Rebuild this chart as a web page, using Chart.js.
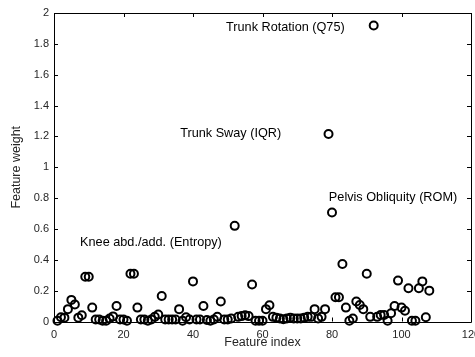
<!DOCTYPE html>
<html>
<head>
<meta charset="utf-8">
<script src="https://cdn.jsdelivr.net/npm/chart.js@4"></script>
<style>
html,body{margin:0;padding:0;background:#fff;}
#wrap{width:475px;height:357px;}
</style>
</head>
<body>
<div id="wrap"><canvas id="c" width="475" height="357"></canvas></div>
<script>
const featureIndex = [];
for (let i = 1; i <= 108; i++) featureIndex.push(i);
const featureWeight = [
  0.005, 0.027, 0.025, 0.08, 0.14, 0.11, 0.025, 0.04, 0.29, 0.29,
  0.09, 0.013, 0.013, 0.005, 0.005, 0.02, 0.033, 0.10, 0.013, 0.013,
  0.005, 0.31, 0.31, 0.09, 0.013, 0.013, 0.005, 0.013, 0.03, 0.045,
  0.165, 0.013, 0.013, 0.013, 0.013, 0.08, 0.005, 0.027, 0.013, 0.26,
  0.013, 0.013, 0.10, 0.01, 0.005, 0.013, 0.03, 0.13, 0.013, 0.013,
  0.02, 0.62, 0.03, 0.035, 0.04, 0.035, 0.24, 0.005, 0.005, 0.005,
  0.08, 0.105, 0.03, 0.025, 0.02, 0.015, 0.02, 0.025, 0.02, 0.02,
  0.02, 0.025, 0.03, 0.03, 0.08, 0.02, 0.03, 0.08, 1.215, 0.707,
  0.157, 0.157, 0.373, 0.09, 0.005, 0.02, 0.13, 0.107, 0.08, 0.31,
  0.03, 1.919, 0.03, 0.042, 0.042, 0.005, 0.053, 0.10, 0.265, 0.09,
  0.07, 0.215, 0.005, 0.005, 0.215, 0.26, 0.027, 0.2
];
const xTicks = [0, 20, 40, 60, 80, 100, 120];
const yTicks = [0, 0.2, 0.4, 0.6, 0.8, 1, 1.2, 1.4, 1.6, 1.8, 2];
const annotationTexts = ["Trunk Rotation (Q75)", "Trunk Sway (IQR)", "Pelvis Obliquity (ROM)", "Knee abd./add. (Entropy)"];
const annotationX = [49.5, 36.3, 79.1, 7.5];
const annotationY = [1.905, 1.222, 0.806, 0.515];
const xTitle = "Feature index";
const yTitle = "Feature weight";

const FONT = "'Liberation Sans', Arial, Helvetica, sans-serif";

const framePlugin = {
  id: 'frame',
  afterDatasetsDraw(chart) {
    const {ctx, chartArea: a, scales: {x, y}} = chart;
    ctx.save();
    ctx.strokeStyle = '#000';
    ctx.lineWidth = 1;
    ctx.beginPath();
    ctx.rect(Math.round(a.left) + 0.5, Math.round(a.top) + 0.5, Math.round(a.right - a.left), Math.round(a.bottom - a.top));
    ctx.stroke();
    const tl = 4;
    ctx.beginPath();
    xTicks.forEach(v => {
      const px = Math.round(x.getPixelForValue(v)) + 0.5;
      ctx.moveTo(px, a.bottom); ctx.lineTo(px, a.bottom - tl);
      ctx.moveTo(px, a.top); ctx.lineTo(px, a.top + tl);
    });
    yTicks.forEach(v => {
      const py = Math.round(y.getPixelForValue(v)) + 0.5;
      ctx.moveTo(a.left, py); ctx.lineTo(a.left + tl, py);
      ctx.moveTo(a.right, py); ctx.lineTo(a.right - tl, py);
    });
    ctx.stroke();
    // annotations
    ctx.fillStyle = '#000';
    ctx.font = '12.7px ' + FONT;
    ctx.textBaseline = 'middle';
    ctx.textAlign = 'left';
    annotationTexts.forEach((t, i) => {
      ctx.fillText(t, x.getPixelForValue(annotationX[i]), y.getPixelForValue(annotationY[i]));
    });
    // axis titles
    ctx.font = '12.5px ' + FONT;
    ctx.fillStyle = '#262626';
    ctx.textAlign = 'center';
    ctx.fillText(xTitle, (a.left + a.right) / 2, 343);
    ctx.save();
    ctx.translate(17, (a.top + a.bottom) / 2);
    ctx.rotate(-Math.PI / 2);
    ctx.fillText(yTitle, 0, 0);
    ctx.restore();
    ctx.restore();
  }
};

new Chart(document.getElementById('c'), {
  type: 'scatter',
  data: {
    datasets: [{
      data: featureIndex.map((v, i) => ({x: v, y: featureWeight[i]})),
      pointStyle: 'circle',
      pointRadius: 4,
      pointBorderWidth: 2,
      borderColor: '#000',
      backgroundColor: 'rgba(0,0,0,0)',
      pointHoverRadius: 4,
      clip: false
    }]
  },
  options: {
    responsive: false,
    animation: false,
    events: [],
    layout: {autoPadding: false, padding: {top: 13, right: 4, left: 0, bottom: 0}},
    plugins: {legend: {display: false}, tooltip: {enabled: false}},
    scales: {
      x: {
        type: 'linear', min: 0, max: 120,
        afterBuildTicks: s => { s.ticks = xTicks.map(v => ({value: v})); },
        afterFit: s => { s.height = 35.5; s.paddingLeft = 0; s.paddingRight = 0; },
        grid: {display: false, drawTicks: false},
        border: {display: false},
        ticks: {color: '#262626', font: {size: 11, family: FONT}, padding: 7, maxRotation: 0, autoSkip: false,
                callback: v => String(v)}
      },
      y: {
        type: 'linear', min: 0, max: 2,
        afterBuildTicks: s => { s.ticks = yTicks.map(v => ({value: v})); },
        afterFit: s => { s.width = 54; s.paddingTop = 0; s.paddingBottom = 0; },
        grid: {display: false, drawTicks: false},
        border: {display: false},
        ticks: {color: '#262626', font: {size: 11, family: FONT}, padding: 5, autoSkip: false,
                callback: v => String(Number(v.toFixed(1)))}
      }
    }
  },
  plugins: [framePlugin]
});
</script>
</body>
</html>
